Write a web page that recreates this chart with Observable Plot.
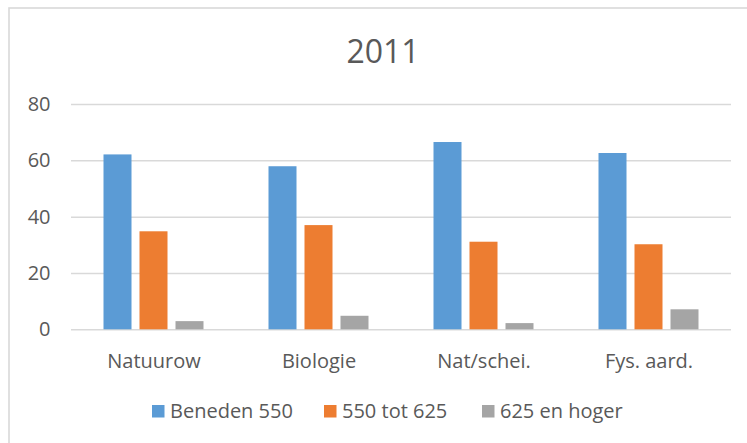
<!DOCTYPE html>
<html>
<head>
<meta charset="utf-8">
<script src="https://cdn.jsdelivr.net/npm/d3@7"></script>
<script src="https://cdn.jsdelivr.net/npm/@observablehq/plot@0.6"></script>
<style>
  html, body { margin: 0; padding: 0; background: #fff; }
  #wrap { position: relative; width: 747px; height: 443px; overflow: hidden; background: #fff; font-family: "Open Sans", sans-serif; }
  #chart { position: absolute; left: 0; top: 0; }
  #overlay { position: absolute; left: 0; top: 0; pointer-events: none; }
</style>
</head>
<body>
<div id="wrap">
  <div id="chart"></div>
  <svg id="overlay" width="747" height="443"></svg>
</div>
<script>
const title = "2011";
const categories = ["Natuurow", "Biologie", "Nat/schei.", "Fys. aard."];
const series = ["Beneden 550", "550 tot 625", "625 en hoger"];
const beneden550 = [62.1, 57.9, 66.5, 62.6];
const tot625 = [34.8, 37.0, 31.1, 30.2];
const hoger625 = [2.9, 4.8, 2.2, 7.1];
const yTicks = [0, 20, 40, 60, 80];
const colors = ["#5B9BD5", "#ED7D31", "#A5A5A5"];

const seriesValues = [beneden550, tot625, hoger625];
const data = categories.flatMap((c, i) =>
  series.map((s, j) => ({category: c, series: s, value: seriesValues[j][i]}))
);

const chart = Plot.plot({
  width: 747,
  height: 380,
  marginTop: 104,
  marginBottom: 50.7,
  marginLeft: 70.5,
  marginRight: 16.5,
  style: {fontFamily: "'Open Sans', sans-serif", fontSize: "20px", color: "#595959", background: "transparent"},
  fx: {domain: categories, padding: 0, label: null, tickSize: 0, tickPadding: 24, axis: "bottom"},
  x: {domain: series, paddingInner: 0.216, paddingOuter: 0.838, axis: null},
  y: {domain: [0, 80], ticks: yTicks, tickSize: 0, tickPadding: 21, label: null},
  color: {domain: series, range: colors},
  marks: [
    Plot.ruleY(yTicks, {stroke: "#d9d9d9", strokeWidth: 1.5}),
    Plot.barY(data, {fx: "category", x: "series", y: "value", fill: "series"})
  ]
});
document.getElementById("chart").appendChild(chart);

// overlay: frame, title, legend
const ov = d3.select("#overlay");
ov.append("rect").attr("x", 9).attr("y", 8).attr("width", 800).attr("height", 500)
  .attr("fill", "none").attr("stroke", "#d9d9d9").attr("stroke-width", 1.6);
ov.append("text").attr("x", 383).attr("y", 63).attr("text-anchor", "middle")
  .attr("font-family", "'Open Sans', sans-serif").attr("font-size", 32).attr("fill", "#595959")
  .text(title);
const legendX = [152, 324, 482];
series.forEach((s, j) => {
  ov.append("rect").attr("x", legendX[j]).attr("y", 405).attr("width", 12.5).attr("height", 12.5)
    .attr("fill", colors[j]);
  ov.append("text").attr("x", legendX[j] + 18).attr("y", 418)
    .attr("font-family", "'Open Sans', sans-serif").attr("font-size", 20).attr("fill", "#595959")
    .text(s);
});
</script>
</body>
</html>
